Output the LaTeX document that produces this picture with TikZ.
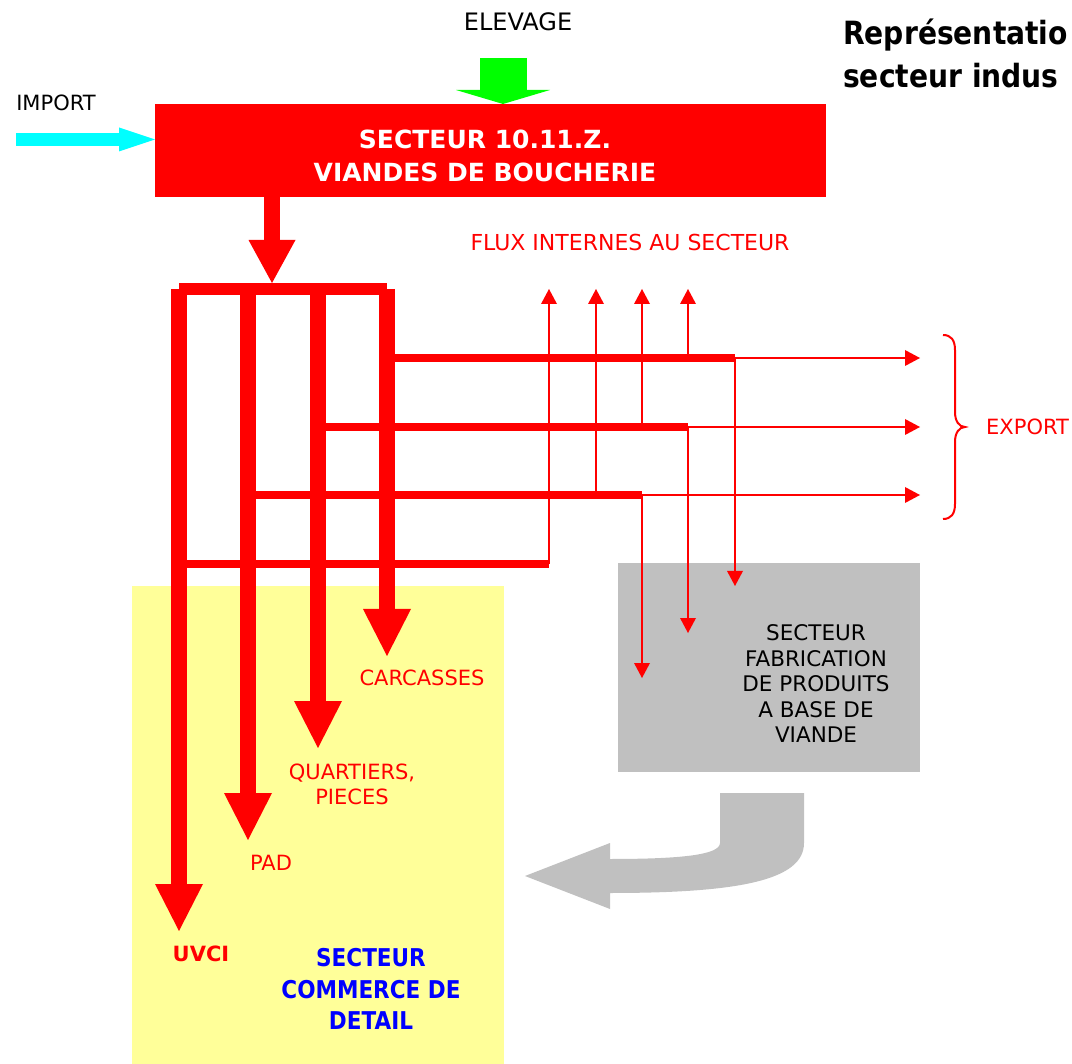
\documentclass[tikz,border=0pt]{standalone}
\usepackage{fontspec}
\setmainfont{DejaVu Sans}
\newfontfamily\narrowfont[FakeStretch=0.88]{DejaVu Sans}
\usetikzlibrary{arrows.meta}
\definecolor{rred}{HTML}{FF0000}
\definecolor{ggreen}{HTML}{00FF00}
\definecolor{ccyan}{HTML}{00FFFF}
\definecolor{yel}{HTML}{FFFF99}
\definecolor{gry}{HTML}{C0C0C0}
\definecolor{bblue}{HTML}{0000FF}
\newcommand\fsz[2]{\fontsize{#1}{#2}\selectfont}
\begin{document}
\begin{tikzpicture}[x=1pt,y=-1pt,
  lbl/.style={inner sep=0pt, align=center},
  redlbl/.style={lbl, text=rred, font=\fsz{21}{25}},
  blacklbl/.style={lbl, text=black, font=\fsz{21}{25}},
  titlelbl/.style={anchor=base west, inner sep=0pt, font=\narrowfont\fsz{32}{38}\bfseries},
  bigflow/.style={draw=rred, line width=16pt, -{Triangle[length=47pt,width=48pt,line width=0pt]}},
  mainflow/.style={draw=rred, line width=16pt, -{Triangle[length=43pt,width=47pt,line width=0pt]}},
  bar/.style={draw=rred, line width=12pt},
  branch/.style={draw=rred, line width=8pt},
  thinline/.style={draw=rred, line width=2pt},
  thinarrow/.style={thinline, -{Triangle[length=15pt,width=16pt,line width=0pt]}},
  boxstyle/.style={inner sep=0pt, anchor=north west},
]
\useasboundingbox (0,0) rectangle (1072,1064);

% background boxes
\node[boxstyle, fill=yel, minimum width=372, minimum height=478] (retail) at (132,586) {};
\node[boxstyle, fill=gry, minimum width=302, minimum height=209] (fab) at (618,563) {};
\node[boxstyle, fill=rred, minimum width=671, minimum height=93] (box) at (155,104) {};

% title (as far as the picture shows it)
\node[titlelbl] (title1) at (843,45) {Représentatio};
\node[titlelbl] (title2) at (843,88) {secteur indus};

% box texts
\node[lbl, text=white, font=\fsz{25}{33}\bfseries] (boxtext) at (485,156) {SECTEUR 10.11.Z.\\VIANDES DE BOUCHERIE};

% inputs
\node[blacklbl, font=\fsz{24}{28}] (elevage) at (518,22) {ELEVAGE};
\node[blacklbl] (import) at (56,103) {IMPORT};
\coordinate (elevstart) at (503,58);
\draw[draw=ggreen, line width=47pt, -{Triangle[length=14pt,width=94pt,line width=0pt]}] (elevstart) -- (elevstart |- box.north);
\coordinate (impstart) at (16,139.5);
\draw[draw=ccyan, line width=13pt, -{Triangle[length=36pt,width=24pt,line width=0pt]}] (impstart) -- (impstart -| box.west);

% main flow
\coordinate (split) at (272,283);
\draw[mainflow] (box.south -| split) -- (split);
\coordinate (v1) at (179,289);
\coordinate (v2) at (248,289);
\coordinate (v3) at (318,289);
\coordinate (v4) at (387,289);
\draw[bar] (v1) -- (v4);

% horizontal branches
\coordinate (h1a) at (387,358); \coordinate (h1b) at (735,358);
\coordinate (h2a) at (318,427); \coordinate (h2b) at (688,427);
\coordinate (h3a) at (248,495); \coordinate (h3b) at (642,495);
\coordinate (h4a) at (179,564); \coordinate (h4b) at (549,564);
\draw[branch] (h1a) -- (h1b);
\draw[branch] (h2a) -- (h2b);
\draw[branch] (h3a) -- (h3b);
\draw[branch] (h4a) -- (h4b);

% internal flows (up)
\coordinate (u1) at (549,289);
\coordinate (u2) at (596,289);
\coordinate (u3) at (642,289);
\coordinate (u4) at (688,289);
\draw[thinarrow] (h4b) -- (u1);
\draw[thinarrow] (u2 |- h3b) -- (u2);
\draw[thinarrow] (u3 |- h2b) -- (u3);
\draw[thinarrow] (u4 |- h1b) -- (u4);

% exports
\coordinate (e1) at (920,358);
\coordinate (e2) at (920,427);
\coordinate (e3) at (920,495);
\draw[thinarrow] (h1b) -- (e1);
\draw[thinarrow] (h2b) -- (e2);
\draw[thinarrow] (h3b) -- (e3);

% to fabrication
\coordinate (f1) at (735,586);
\coordinate (f2) at (688,633);
\coordinate (f3) at (642,678);
\draw[thinarrow] (h1b) -- (f1);
\draw[thinarrow] (h2b) -- (f2);
\draw[thinarrow] (h3b) -- (f3);

% brace and EXPORT
\draw[thinline] (943,335) .. controls (951,335) and (955,340) .. (955,350) -- (955,412)
  .. controls (955,421) and (959,427) .. (965,427)
  .. controls (959,427) and (955,433) .. (955,442) -- (955,504)
  .. controls (955,514) and (951,519) .. (943,519);
\node[redlbl, anchor=west] (export) at (986,427) {EXPORT};
\node[redlbl, font=\fsz{22}{25}] (flux) at (630,242) {FLUX INTERNES AU SECTEUR};

% big flows to retail
\coordinate (uvcitip) at (179,931);
\coordinate (padtip) at (248,840);
\coordinate (quartip) at (318,748);
\coordinate (carctip) at (387,656);
\draw[bigflow] (v1) -- (uvcitip);
\draw[bigflow] (v2) -- (padtip);
\draw[bigflow] (v3) -- (quartip);
\draw[bigflow] (v4) -- (carctip);

\node[redlbl] (carc) at (422,678) {CARCASSES};
\node[redlbl] (quart) at (352,784) {QUARTIERS,\\PIECES};
\node[redlbl] (pad) at (271,863) {PAD};
\node[redlbl, font=\fsz{21}{25}\bfseries] (uvci) at (201,954) {UVCI};

\node[lbl, text=bblue, font=\narrowfont\fsz{24.5}{31.5}\bfseries] (retailtext) at (371,989) {SECTEUR\\COMMERCE DE\\DETAIL};
\node[blacklbl, font=\fsz{21.5}{25.5}] (fabtext) at (816,684) {SECTEUR\\FABRICATION\\DE PRODUITS\\A BASE DE\\VIANDE};

% grey return arrow
\fill[gry] (720,793) -- (804,793) -- (804,843)
  .. controls (804,880) and (740,893) .. (610,893)
  -- (610,909) -- (525,876) -- (610,843) -- (610,859)
  .. controls (680,859) and (720,855) .. (720,843) -- cycle;
\end{tikzpicture}
\end{document}
